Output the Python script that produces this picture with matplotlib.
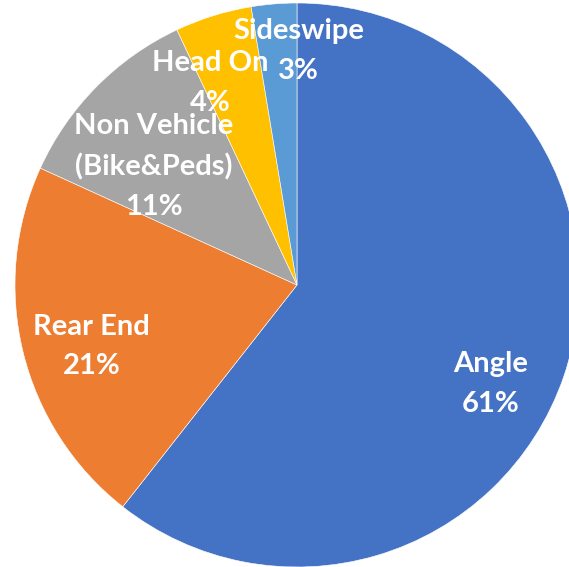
import numpy as np
import matplotlib.pyplot as plt

# crash types, clockwise from 12 o'clock
categories = ['Angle', 'Rear End', 'Non Vehicle\n(Bike&Peds)', 'Head On', 'Sideswipe']
shares = [60.6, 21.2, 11.2, 4.4, 2.6]
colors = ['#4472C4', '#ED7D31', '#A5A5A5', '#FFC000', '#5B9BD5']

# label placement relative to each wedge (radius fraction, angle nudge in deg)
label_r = [0.77, 0.76, 0.66, 0.78, 0.83]
label_nudge = [-8, 3, 5, 6, -5]

W, H = 569, 567
fig = plt.figure(figsize=(W / 100, H / 100), dpi=100)
cx, cy, R = 297, 285, 282
ax = fig.add_axes([(cx - R) / W, (H - cy - R) / H, 2 * R / W, 2 * R / H])

wedges, _ = ax.pie(shares, colors=colors, startangle=90, counterclock=False,
                   wedgeprops=dict(edgecolor='white', linewidth=0.4))
ax.set_xlim(-1, 1)
ax.set_ylim(-1, 1)

for w, name, v, r, dn in zip(wedges, categories, shares, label_r, label_nudge):
    mid = np.deg2rad((w.theta1 + w.theta2) / 2 + dn)
    ax.text(r * np.cos(mid), r * np.sin(mid), f'{name}\n{round(v)}%',
            ha='center', va='center', color='white', fontsize=21,
            fontweight='bold', family=['Lato', 'DejaVu Sans'], linespacing=1.65)

fig.savefig('out.png', dpi=100)
